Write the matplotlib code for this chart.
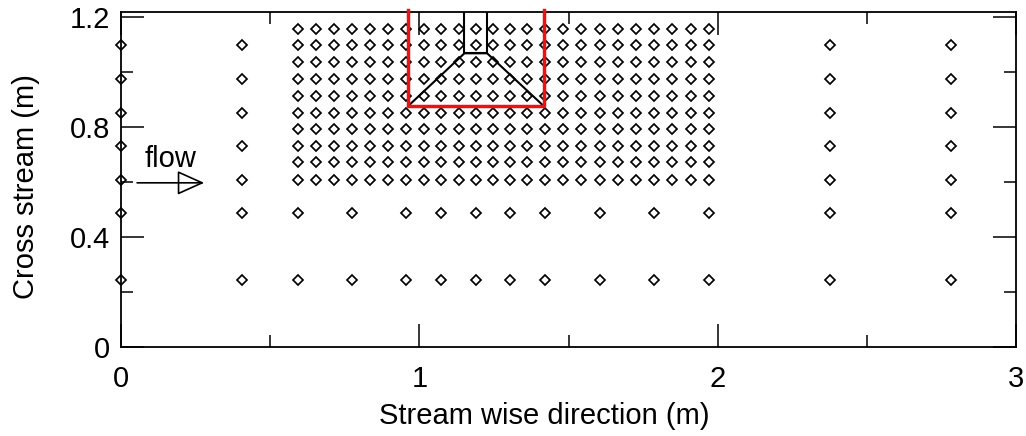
""" Measurement grid in the stream wise / cross stream plane """

import matplotlib
matplotlib.use('Agg')
import matplotlib.pyplot as plt
from matplotlib.ticker import MultipleLocator, FixedLocator, FixedFormatter

plt.rcParams['font.family'] = ['Liberation Sans', 'DejaVu Sans']

# dense block of probe points
dense_x = [0.592, 0.652, 0.712, 0.773, 0.834, 0.895, 0.955, 1.014, 1.073, 1.132, 1.189, 1.247,
	1.304, 1.361, 1.420, 1.481, 1.543, 1.604, 1.665, 1.727, 1.787, 1.848, 1.910, 1.971]
dense_y = [1.159, 1.099, 1.037, 0.975, 0.915, 0.853, 0.794, 0.732, 0.672, 0.610]

# sparse columns either side of the block
side_x = [0.0, 0.405, 2.377, 2.782]
side_y = [1.099, 0.975, 0.853, 0.732, 0.610, 0.489, 0.245]

# the two rows below the block
low_x = [0.592, 0.773, 0.955, 1.073, 1.19, 1.304, 1.42, 1.604, 1.787, 1.971]
low_y = [0.489, 0.245]

# red box and black contour
box_x = [0.962, 0.962, 1.417, 1.417]
box_y = [1.225, 0.877, 0.877, 1.225]
contour_x = [0.962, 1.151, 1.227, 1.417]
contour_y = [0.877, 1.069, 1.069, 0.877]
neck_x = [1.151, 1.151, 1.227, 1.227]
neck_y = [1.218, 1.069, 1.069, 1.218]

x_labels = ['0', '1', '2', '3']
y_labels = ['0', '0.4', '0.8', '1.2']

xs = [x for x in dense_x for y in dense_y] + [x for x in side_x for y in side_y] + [x for x in low_x for y in low_y]
ys = [y for x in dense_x for y in dense_y] + [y for x in side_x for y in side_y] + [y for x in low_x for y in low_y]

fig = plt.figure(figsize=(10.26, 4.36), dpi=100)
ax = fig.add_axes([121.3 / 1026, 1 - 347.3 / 436, 894.4 / 1026, 335 / 436])

ax.plot(xs, ys, linestyle='none', marker='D', markersize=5.2, markerfacecolor='none',
	markeredgecolor='k', markeredgewidth=1.25, clip_on=False, zorder=3)
ax.plot(contour_x, contour_y, color='k', lw=1.5, zorder=4)
ax.plot(neck_x, neck_y, color='k', lw=1.5, zorder=4)
ax.plot(box_x, box_y, color='#ee1111', lw=2.5, clip_on=False, zorder=5)

ax.annotate('', xy=(0.278, 0.598), xytext=(0.053, 0.598),
	arrowprops=dict(arrowstyle='-|>,head_length=1.0,head_width=0.45', fc='none', ec='k', lw=1.2,
		shrinkA=0, shrinkB=0, mutation_scale=17))
ax.text(0.165, 0.656, 'flow', fontsize=21, ha='center', va='baseline')

ax.set_xlim(0, 3)
ax.set_ylim(0, 1.218)
ax.xaxis.set_major_locator(FixedLocator([0, 1, 2, 3]))
ax.xaxis.set_major_formatter(FixedFormatter(x_labels))
ax.xaxis.set_minor_locator(MultipleLocator(0.5))
ax.yaxis.set_major_locator(FixedLocator([0, 0.4, 0.8, 1.2]))
ax.yaxis.set_major_formatter(FixedFormatter(y_labels))
ax.yaxis.set_minor_locator(MultipleLocator(0.2))

ax.tick_params(which='major', direction='in', top=True, right=True, length=16.5, width=1.1, labelsize=21)
ax.tick_params(which='minor', direction='in', top=True, right=True, length=8.5, width=1.1)
ax.tick_params(axis='x', which='major', pad=12.5)
ax.tick_params(axis='y', which='major', pad=8)
for spine in ax.spines.values():
	spine.set_linewidth(1.3)

ax.set_xlabel('Stream wise direction (m)', fontsize=21, va='center')
ax.set_ylabel('Cross stream (m)', fontsize=21, va='center')
ax.xaxis.set_label_coords((544 - 121.3) / 894.4, -(416 - 347.3) / 335)
ax.yaxis.set_label_coords((26 - 121.3) / 894.4, (347.3 - 187) / 335)

fig.savefig('out.png', dpi=100)
